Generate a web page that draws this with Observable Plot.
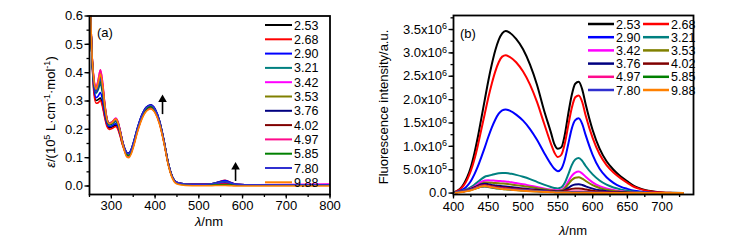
<!DOCTYPE html>
<html><head><meta charset="utf-8">
<script src="https://cdn.jsdelivr.net/npm/d3@7"></script>
<script src="https://cdn.jsdelivr.net/npm/@observablehq/plot@0.6"></script>
<style>
body{margin:0;background:#fff;}
#wrap{display:flex;width:751px;height:240px;overflow:hidden;}
#wrap svg{display:block;flex:none;}
</style></head><body><div id="wrap"></div>
<script>
// ---- series (pH values) and colours ----
const seriesLabels = ["2.53","2.68","2.90","3.21","3.42","3.53","3.76","4.02","4.97","5.85","7.80","9.88"];
const seriesColors = ["#000000","#ff0000","#0000ff","#008080","#ff00ff","#808000","#000080","#800000","#ff0a8c","#008000","#3030d0","#ff8000"];

// ---- panel (a): absorption, epsilon / 10^5 L cm-1 mol-1 ----
const wlA = [250,255,260,265,270,275,280,285,290,295,300,305,310,315,320,325,330,335,340,345,350,360,370,380,390,400,410,420,430,440,450,470,500,530,545,560,575,590,620,700,800];
const abs253 = [0.72,0.48,0.34,0.302,0.305,0.31,0.285,0.245,0.215,0.205,0.207,0.211,0.215,0.205,0.18,0.15,0.128,0.111,0.108,0.12,0.143,0.202,0.247,0.274,0.282,0.267,0.227,0.16,0.08,0.03,0.012,0.007,0.006,0.008,0.013,0.018,0.01,0.005,0.004,0.004,0.004];
const abs268 = [0.72,0.48,0.33,0.292,0.294,0.302,0.278,0.24,0.21,0.2,0.202,0.206,0.21,0.2,0.176,0.147,0.125,0.108,0.105,0.117,0.14,0.196,0.24,0.266,0.274,0.26,0.221,0.156,0.078,0.029,0.012,0.007,0.006,0.008,0.014,0.02,0.011,0.005,0.004,0.004,0.004];
const abs290 = [0.72,0.48,0.35,0.312,0.318,0.33,0.302,0.255,0.22,0.21,0.212,0.216,0.22,0.21,0.185,0.155,0.133,0.118,0.115,0.127,0.15,0.207,0.252,0.279,0.287,0.272,0.231,0.163,0.082,0.031,0.012,0.007,0.006,0.008,0.014,0.019,0.011,0.005,0.004,0.004,0.004];
const abs321 = [0.72,0.48,0.36,0.327,0.34,0.36,0.325,0.27,0.228,0.215,0.217,0.222,0.228,0.217,0.19,0.158,0.132,0.115,0.112,0.124,0.147,0.203,0.248,0.275,0.283,0.268,0.228,0.161,0.081,0.03,0.012,0.007,0.006,0.008,0.012,0.015,0.009,0.005,0.004,0.004,0.004];
const abs342 = [0.72,0.49,0.38,0.347,0.375,0.41,0.365,0.29,0.238,0.222,0.225,0.232,0.24,0.228,0.198,0.163,0.133,0.114,0.11,0.122,0.145,0.2,0.245,0.272,0.28,0.265,0.226,0.16,0.08,0.03,0.012,0.006,0.005,0.006,0.008,0.01,0.007,0.005,0.004,0.005,0.007];
const abs353 = [0.72,0.49,0.37,0.337,0.36,0.39,0.35,0.283,0.235,0.22,0.222,0.229,0.236,0.224,0.195,0.16,0.131,0.111,0.108,0.12,0.143,0.199,0.244,0.271,0.279,0.264,0.225,0.159,0.079,0.029,0.011,0.006,0.005,0.006,0.008,0.009,0.006,0.004,0.004,0.004,0.004];
const abs376 = [0.72,0.48,0.365,0.332,0.35,0.375,0.338,0.277,0.232,0.218,0.22,0.226,0.232,0.221,0.193,0.16,0.135,0.119,0.116,0.128,0.151,0.206,0.251,0.278,0.286,0.271,0.23,0.163,0.082,0.031,0.012,0.007,0.006,0.007,0.01,0.012,0.008,0.005,0.004,0.004,0.004];
const abs402 = [0.72,0.49,0.375,0.342,0.365,0.395,0.354,0.285,0.236,0.22,0.222,0.229,0.235,0.223,0.194,0.159,0.129,0.109,0.106,0.118,0.141,0.199,0.244,0.271,0.279,0.264,0.225,0.159,0.079,0.029,0.011,0.006,0.005,0.006,0.007,0.008,0.006,0.004,0.004,0.004,0.004];
const abs497 = [0.72,0.49,0.38,0.347,0.375,0.41,0.365,0.29,0.238,0.222,0.224,0.231,0.238,0.226,0.196,0.16,0.128,0.107,0.104,0.116,0.139,0.196,0.241,0.268,0.276,0.262,0.223,0.158,0.079,0.029,0.011,0.006,0.005,0.005,0.006,0.006,0.005,0.004,0.004,0.004,0.005];
const abs585 = [0.72,0.48,0.365,0.332,0.347,0.37,0.333,0.275,0.231,0.218,0.22,0.226,0.232,0.221,0.192,0.158,0.13,0.111,0.108,0.12,0.143,0.2,0.245,0.272,0.28,0.265,0.226,0.16,0.08,0.03,0.011,0.005,0.004,0.004,0.004,0.004,0.004,0.003,0.003,0.003,0.003];
const abs780 = [0.72,0.48,0.365,0.332,0.352,0.38,0.342,0.28,0.234,0.22,0.222,0.228,0.234,0.223,0.194,0.161,0.134,0.117,0.114,0.126,0.149,0.205,0.25,0.277,0.285,0.27,0.229,0.162,0.081,0.03,0.012,0.007,0.006,0.008,0.011,0.014,0.009,0.005,0.004,0.004,0.004];
const abs988 = [0.72,0.49,0.375,0.342,0.365,0.395,0.354,0.285,0.236,0.22,0.222,0.229,0.236,0.223,0.192,0.155,0.124,0.103,0.1,0.112,0.135,0.192,0.237,0.264,0.272,0.258,0.219,0.154,0.075,0.025,0.007,0.002,0.001,0.001,0.002,0.002,0.001,0,0,0,0];

// arrows in panel (a) (data units)
const arrowsA = [{x:417, y1:0.252, y2:0.305},{x:584, y1:0.016, y2:0.067}];

// ---- panel (b): fluorescence intensity, in units of 10^6 ----
const wlB = [403,410,415,420,425,430,435,440,445,450,455,460,465,470,475,480,490,500,510,520,530,540,545,550,555,560,565,570,575,580,585,590,600,610,620,630,640,650,660,670,680,690,700,715,730];
const fl253 = [0.03,0.1,0.2,0.35,0.56,0.85,1.2,1.6,2.0,2.4,2.75,3.05,3.28,3.42,3.47,3.44,3.3,3.08,2.75,2.32,1.78,1.3,1.05,0.95,0.98,1.25,1.7,2.1,2.34,2.38,2.22,1.9,1.35,0.95,0.68,0.5,0.36,0.25,0.15,0.09,0.05,0.03,0.015,0.005,0];
const fl268 = [0.03,0.09,0.17,0.3,0.48,0.72,1.02,1.36,1.7,2.04,2.34,2.6,2.8,2.92,2.95,2.92,2.8,2.6,2.32,1.95,1.5,1.06,0.87,0.77,0.82,1.06,1.45,1.82,2.05,2.09,1.95,1.66,1.18,0.83,0.6,0.44,0.32,0.22,0.13,0.08,0.045,0.025,0.012,0.004,0];
const fl290 = [0.02,0.05,0.09,0.16,0.26,0.4,0.57,0.77,0.98,1.2,1.4,1.57,1.7,1.77,1.79,1.77,1.68,1.55,1.37,1.14,0.87,0.62,0.52,0.47,0.52,0.72,1.05,1.38,1.56,1.6,1.48,1.24,0.82,0.52,0.34,0.22,0.14,0.09,0.05,0.03,0.015,0.008,0.004,0.001,0];
const fl321 = [0.02,0.04,0.06,0.09,0.13,0.18,0.24,0.3,0.35,0.37,0.39,0.41,0.425,0.43,0.43,0.42,0.39,0.35,0.3,0.24,0.18,0.13,0.11,0.1,0.12,0.22,0.4,0.6,0.72,0.75,0.69,0.58,0.4,0.27,0.18,0.12,0.08,0.05,0.03,0.015,0.008,0.004,0.002,0,0];
const fl342 = [0.02,0.03,0.05,0.07,0.1,0.14,0.19,0.24,0.27,0.275,0.27,0.265,0.26,0.255,0.25,0.24,0.215,0.19,0.16,0.13,0.1,0.075,0.065,0.06,0.07,0.13,0.25,0.37,0.44,0.46,0.42,0.35,0.23,0.15,0.1,0.065,0.04,0.025,0.015,0.008,0.004,0.002,0.001,0,0];
const fl353 = [0.02,0.03,0.045,0.065,0.09,0.12,0.16,0.2,0.225,0.225,0.22,0.215,0.21,0.205,0.2,0.19,0.17,0.15,0.13,0.105,0.08,0.06,0.05,0.047,0.055,0.1,0.19,0.28,0.33,0.34,0.31,0.26,0.17,0.11,0.07,0.045,0.03,0.018,0.01,0.005,0.003,0.001,0,0,0];
const fl376 = [0.02,0.03,0.045,0.065,0.09,0.12,0.155,0.19,0.2,0.19,0.175,0.165,0.155,0.148,0.14,0.132,0.115,0.1,0.085,0.07,0.055,0.042,0.037,0.035,0.04,0.065,0.11,0.16,0.185,0.19,0.175,0.145,0.095,0.06,0.04,0.025,0.016,0.01,0.005,0.003,0.001,0,0,0,0];
const fl402 = [0.02,0.03,0.04,0.06,0.08,0.11,0.14,0.165,0.175,0.165,0.15,0.14,0.13,0.122,0.115,0.108,0.094,0.08,0.068,0.056,0.045,0.035,0.031,0.03,0.033,0.048,0.07,0.09,0.1,0.1,0.092,0.077,0.05,0.032,0.02,0.013,0.008,0.005,0.003,0.001,0,0,0,0,0];
const fl497 = [0.02,0.03,0.04,0.055,0.075,0.1,0.13,0.155,0.16,0.15,0.135,0.122,0.112,0.104,0.097,0.09,0.077,0.065,0.054,0.044,0.035,0.027,0.024,0.022,0.023,0.027,0.032,0.035,0.036,0.035,0.032,0.027,0.018,0.012,0.008,0.005,0.003,0.002,0.001,0,0,0,0,0,0];
const fl585 = [0.02,0.028,0.037,0.05,0.068,0.09,0.115,0.135,0.14,0.13,0.117,0.105,0.096,0.088,0.082,0.076,0.064,0.054,0.045,0.037,0.03,0.023,0.02,0.018,0.017,0.017,0.016,0.016,0.015,0.014,0.013,0.011,0.008,0.006,0.004,0.003,0.002,0.001,0,0,0,0,0,0,0];
const fl780 = [0.02,0.028,0.038,0.052,0.07,0.093,0.12,0.142,0.148,0.138,0.124,0.112,0.102,0.094,0.088,0.082,0.07,0.06,0.05,0.041,0.033,0.026,0.023,0.021,0.02,0.02,0.02,0.019,0.018,0.017,0.015,0.013,0.01,0.007,0.005,0.003,0.002,0.001,0,0,0,0,0,0,0];
const fl988 = [0.01,0.018,0.028,0.042,0.06,0.085,0.115,0.142,0.15,0.14,0.125,0.112,0.1,0.09,0.082,0.075,0.062,0.05,0.04,0.032,0.025,0.019,0.016,0.014,0.013,0.012,0.011,0.01,0.009,0.008,0.007,0.006,0.004,0.003,0.002,0.001,0,0,0,0,0,0,0,0,0];

// ---- tick values ----
const ticksAx = [300,400,500,600,700,800];
const minorAx = [250,300,350,400,450,500,550,600,650,700,750,800];
const ticksAy = [0,0.1,0.2,0.3,0.4,0.5,0.6];
const minorAy = [0,0.05,0.1,0.15,0.2,0.25,0.3,0.35,0.4,0.45,0.5,0.55,0.6];
const ticksBx = [400,450,500,550,600,650,700];
const minorBx = [400,425,450,475,500,525,550,575,600,625,650,675,700,725];
const ticksBy = [0,0.5,1,1.5,2,2.5,3,3.5];
const minorBy = [0,0.25,0.5,0.75,1,1.25,1.5,1.75,2,2.25,2.5,2.75,3,3.25,3.5,3.75];
const tickLabelsBy = ["0.0","5.0x10^5","1.0x10^6","1.5x10^6","2.0x10^6","2.5x10^6","3.0x10^6","3.5x10^6"];

const absSeries = [abs253,abs268,abs290,abs321,abs342,abs353,abs376,abs402,abs497,abs585,abs780,abs988];
const flSeries = [fl253,fl268,fl290,fl321,fl342,fl353,fl376,fl402,fl497,fl585,fl780,fl988];

const rowsA = absSeries.flatMap((vals,k)=>wlA.map((w,i)=>({wl:w, v:vals[i], s:seriesLabels[k]})));
const rowsB = flSeries.flatMap((vals,k)=>wlB.map((w,i)=>({wl:w, v:vals[i], s:seriesLabels[k]})));

const FONT = "'Liberation Sans', Arial, Helvetica, sans-serif";
const color = {domain: seriesLabels, range: seriesColors};

const plotA = Plot.plot({
  width: 375, height: 240,
  marginLeft: 89, marginRight: 45.5, marginTop: 15.5, marginBottom: 46,
  style: {fontFamily: FONT, fontSize: "13px", background: "white", color: "black", overflow: "visible"},
  x: {domain: [250, 800]},
  y: {domain: [-0.03, 0.6]},
  color,
  marks: [
    Plot.line(rowsA, {x: "wl", y: "v", z: "s", stroke: "s", strokeWidth: 1.6, curve: "monotone-x", clip: true}),
    Plot.ruleX(arrowsA, {x: "x", y1: "y1", y2: "y2", stroke: "black", strokeWidth: 1.6}),
    Plot.dot(arrowsA, {x: "x", y: "y2", symbol: "triangle", fill: "black", stroke: null, r: 3.2}),
    Plot.axisX({ticks: minorAx, tickSize: 3, tickFormat: () => "", label: null, strokeWidth: 1.3}),
    Plot.axisX({ticks: ticksAx, tickSize: 4.5, tickPadding: 2, tickFormat: d => String(d), label: null, strokeWidth: 1.3}),
    Plot.axisY({ticks: minorAy, tickSize: 2.5, tickFormat: () => "", label: null, strokeWidth: 1.3}),
    Plot.axisY({ticks: ticksAy, tickSize: 4.5, tickPadding: 2, tickFormat: d => d.toFixed(1), label: null, strokeWidth: 1.3}),
    Plot.frame({stroke: "black", strokeWidth: 1.8})
  ]
});

const plotB = Plot.plot({
  width: 376, height: 240,
  marginLeft: 78, marginRight: 58, marginTop: 15, marginBottom: 46,
  style: {fontFamily: FONT, fontSize: "13px", background: "white", color: "black", overflow: "visible"},
  x: {domain: [400, 745]},
  y: {domain: [-0.03, 3.8]},
  color,
  marks: [
    Plot.line(rowsB, {x: "wl", y: "v", z: "s", stroke: "s", strokeWidth: 2, curve: "monotone-x", clip: true}),
    Plot.axisX({ticks: minorBx, tickSize: 3, tickFormat: () => "", label: null, strokeWidth: 1.3}),
    Plot.axisX({ticks: ticksBx, tickSize: 4.5, tickPadding: 3, tickFormat: d => String(d), label: null, strokeWidth: 1.3}),
    Plot.axisY({ticks: minorBy, tickSize: 2.5, tickFormat: () => "", label: null, strokeWidth: 1.3}),
    Plot.axisY({ticks: ticksBy, tickSize: 4.5, tickPadding: 2, tickFormat: d => tickLabelsBy[ticksBy.indexOf(d)], label: null, strokeWidth: 1.3}),
    Plot.frame({stroke: "black", strokeWidth: 1.8})
  ]
});

const wrap = document.getElementById("wrap");
wrap.appendChild(plotA);
wrap.appendChild(plotB);

// superscripts in y tick labels of panel (b)
d3.select(plotB).selectAll("text").each(function() {
  const t = this.textContent;
  if (t.includes("^")) {
    const [base, exp] = t.split("^");
    const sel = d3.select(this);
    sel.text(null);
    sel.append("tspan").text(base);
    sel.append("tspan").attr("font-size", "9px").attr("dy", "-0.5em").text(exp);
  }
});

// helper for rich text
function richText(svg, x, y, parts, opts = {}) {
  const size = opts.size || 13;
  const t = d3.select(svg).append("text")
    .attr("x", x).attr("y", y)
    .attr("font-family", FONT).attr("font-size", size)
    .attr("fill", "black")
    .attr("text-anchor", opts.anchor || "middle");
  if (opts.rotate) t.attr("transform", `rotate(-90 ${x} ${y})`);
  let shift = 0;
  parts.forEach(p => {
    const ts = t.append("tspan").text(p.t);
    if (p.i) ts.attr("font-style", "italic");
    if (p.sup) {
      ts.attr("font-size", size * 0.7);
      if (shift === 0) { ts.attr("dy", -size * 0.42); shift = 1; }
    } else if (shift === 1) { ts.attr("dy", size * 0.42); shift = 0; }
  });
  return t;
}

// panel (a) labels
richText(plotA, 209, 226, [{t: "λ", i: true}, {t: "/nm"}], {size: 13});
richText(plotA, 55, 112, [{t: "ε", i: true}, {t: "/(10"}, {t: "5", sup: true}, {t: " L·cm"}, {t: "-1", sup: true}, {t: "·mol"}, {t: "-1", sup: true}, {t: ")"}], {size: 13, rotate: true});
richText(plotA, 97, 37, [{t: "(a)"}], {size: 13, anchor: "start"});

// panel (b) labels
richText(plotB, 198, 235, [{t: "λ", i: true}, {t: "/nm"}], {size: 13});
richText(plotB, 13, 107, [{t: "Fluorescence intensity/a.u."}], {size: 13, rotate: true});
richText(plotB, 85, 38, [{t: "(b)"}], {size: 13, anchor: "start"});

// legends
function legend(svg, layout) {
  const g = d3.select(svg).append("g").attr("text-anchor", "start");
  seriesLabels.forEach((lab, i) => {
    const col = layout.cols === 1 ? 0 : i % layout.cols;
    const row = layout.cols === 1 ? i : Math.floor(i / layout.cols);
    const c = layout.colX[col];
    const y = layout.y0 + row * layout.dy;
    g.append("line").attr("x1", c).attr("x2", c + layout.len).attr("y1", y).attr("y2", y)
      .attr("stroke", seriesColors[i]).attr("stroke-width", layout.sw);
    g.append("text").attr("x", c + layout.len + 2).attr("y", y).attr("dy", "0.36em")
      .attr("text-anchor", "start")
      .attr("font-family", FONT).attr("font-size", layout.size).attr("fill", "black").text(lab);
  });
}
legend(plotA, {cols: 1, colX: [265], len: 27, y0: 25, dy: 14.3, sw: 2, size: 12.5});
legend(plotB, {cols: 2, colX: [213, 268], len: 26, y0: 24, dy: 13.2, sw: 2.5, size: 12.5});
</script></body></html>
